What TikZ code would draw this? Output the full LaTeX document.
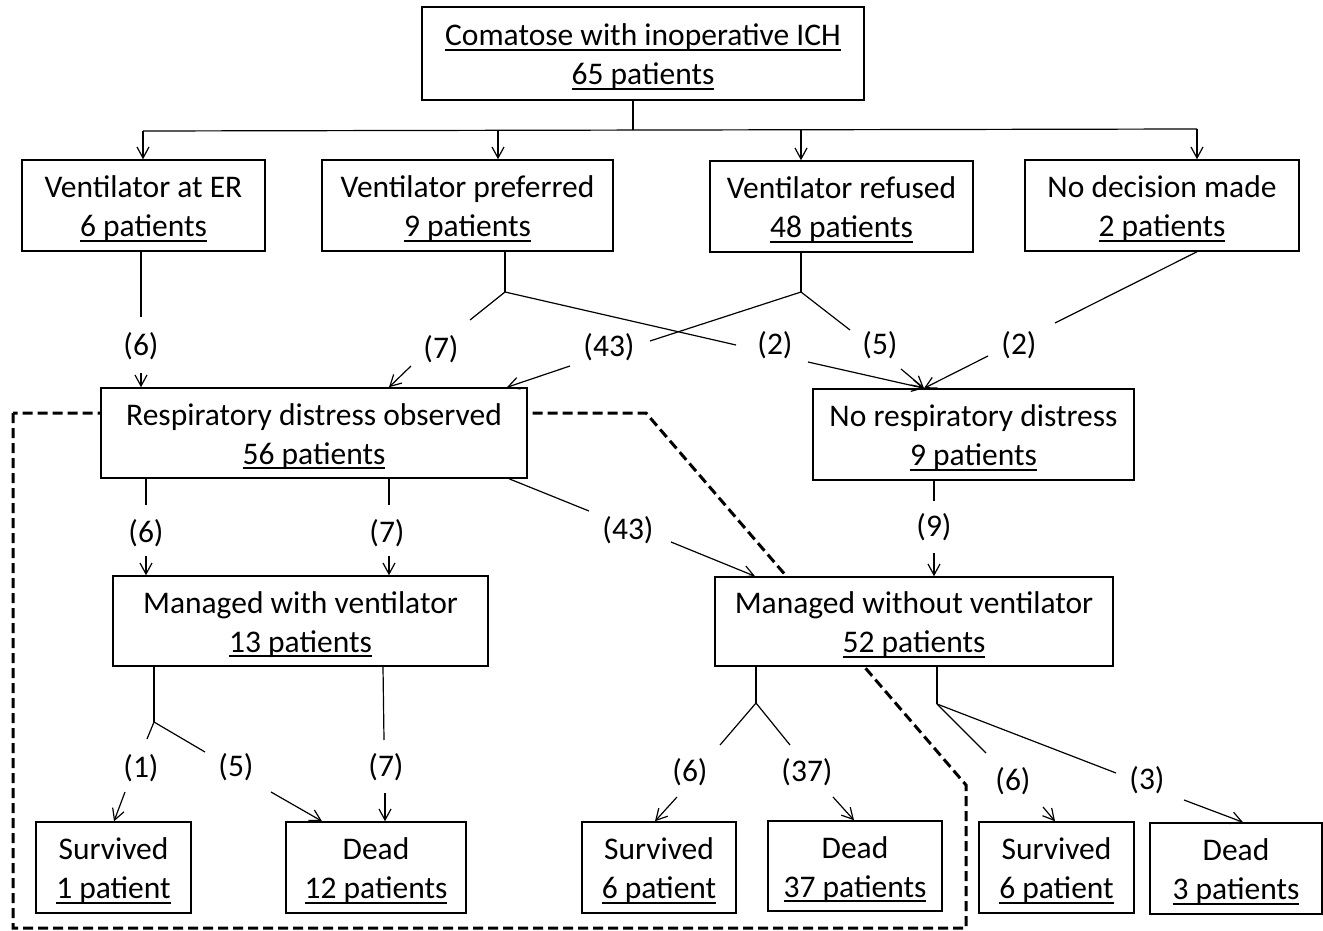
\documentclass[tikz,border=0pt]{standalone}
\usepackage{fontspec}
\setmainfont{Carlito}
\usetikzlibrary{arrows.meta,calc}
\newcommand\ulx[1]{\setbox0\hbox{#1}\rlap{\rule[-0.16em]{\wd0}{0.065em}}\box0}
\newcommand\strutx{\rule{0pt}{0.9em}}
\begin{document}
\begin{tikzpicture}[x=1pt,y=-1pt,
  font=\fontsize{31.5}{39}\selectfont,
  box/.style={draw=black, line width=1.5pt, fill=white, align=center, inner sep=0pt, text=black},
  lab/.style={inner sep=0pt, text=black},
  conn/.style={line width=1.2pt, draw=black},
  arr/.style={conn, -{Straight Barb[length=11pt,width=12pt,line width=1.2pt]}},
  dashbox/.style={line width=3pt, dash pattern=on 10pt off 5pt}]
\useasboundingbox (0,0) rectangle (1323,931);
\fill[white] (0,0) rectangle (1323,931);

% dashed region
\draw[dashbox] (13,413) -- (13,928) -- (966,928) -- (966,785) -- (646,413) -- cycle;

% boxes
\node[box, minimum width=442pt, minimum height=93pt] (top) at (643,53.5) {\strutx\ulx{Comatose with inoperative ICH}\\\ulx{65 patients}};
\node[box, minimum width=243pt, minimum height=91pt] (b1) at (143.5,205.5) {\strutx Ventilator at ER\\\ulx{6 patients}};
\node[box, minimum width=291pt, minimum height=91pt] (b2) at (467.5,205.5) {\strutx Ventilator preferred\\\ulx{9 patients}};
\node[box, minimum width=263pt, minimum height=91pt] (b3) at (841.5,206.5) {\strutx Ventilator refused\\\ulx{48 patients}};
\node[box, minimum width=274pt, minimum height=91pt] (b4) at (1162,205.5) {\strutx No decision made\\\ulx{2 patients}};
\node[box, minimum width=426pt, minimum height=90pt] (R) at (314,433) {\strutx Respiratory distress observed\\\ulx{56 patients}};
\node[box, minimum width=321pt, minimum height=91pt] (N) at (973.5,434.5) {\strutx No respiratory distress\\\ulx{9 patients}};
\node[box, minimum width=375pt, minimum height=90pt] (MW) at (300.5,621) {\strutx Managed with ventilator\\\ulx{13 patients}};
\node[box, minimum width=398pt, minimum height=89pt] (MO) at (914,621.5) {\strutx Managed without ventilator\\\ulx{52 patients}};
\node[box, minimum width=155pt, minimum height=91pt] (S1) at (113.5,867.5) {\strutx Survived\\\ulx{1 patient}};
\node[box, minimum width=180pt, minimum height=91pt] (D12) at (376,867.5) {\strutx Dead\\\ulx{12 patients}};
\node[box, minimum width=154pt, minimum height=91pt] (S6a) at (659,867.5) {\strutx Survived\\\ulx{6 patient}};
\node[box, minimum width=174pt, minimum height=90pt] (D37) at (855,866) {\strutx Dead\\\ulx{37 patients}};
\node[box, minimum width=155pt, minimum height=91pt] (S6b) at (1056.5,867.5) {\strutx Survived\\\ulx{6 patient}};
\node[box, minimum width=172pt, minimum height=91pt] (D3) at (1236,868.5) {\strutx Dead\\\ulx{3 patients}};

% top fan-out
\coordinate (t0) at (633,130);
\coordinate (a1) at (143,131);
\coordinate (a2) at (498,130.5);
\coordinate (a3) at (801,130);
\coordinate (a4) at (1197,129);
\draw[conn] (top.south -| t0) -- (t0);
\draw[conn] (a1) -- (a4);
\draw[arr] (a1) -- (a1 |- b1.north);
\draw[arr] (a2) -- (a2 |- b2.north);
\draw[arr] (a3) -- (a3 |- b3.north);
\draw[arr] (a4) -- (a4 |- b4.north);

% row 2 -> R / N
\draw[conn] (b1.south -| 141,0) -- (141,317) coordinate (e1a);
\node[lab] (l1) at (141,346) {(6)};
\draw[arr] (141,373) coordinate (e1b) -- (R.north -| e1b);

\draw[conn] (b2.south -| 505,0) -- (505,292) coordinate (j2);
\draw[conn] (j2) -- (470,320) coordinate (e2a);
\node[lab] (l2) at (441,349) {(7)};
\draw[arr] (411,366) coordinate (e2b) -- (R.north -| 389,0);
\draw[conn] (j2) -- (736,345) coordinate (e3a);
\node[lab] (l3) at (775,345) {(2)};
\draw[arr] (808,362) coordinate (e3b) -- (N.north -| 924,0);

\draw[conn] (b3.south -| 801,0) -- (801,292) coordinate (j3);
\draw[conn] (j3) -- (650,341) coordinate (e4a);
\node[lab] (l4) at (609,347) {(43)};
\draw[arr] (570,366) coordinate (e4b) -- (R.north -| 507,0);
\draw[conn] (j3) -- (850,330) coordinate (e5a);
\node[lab] (l5) at (880,345) {(5)};
\draw[arr] (901,369) coordinate (e5b) -- (N.north -| 924,0);

\draw[conn] (b4.south -| 1197,0) -- (1055,323) coordinate (e6a);
\node[lab] (l6) at (1019,345) {(2)};
\draw[arr] (988,356) coordinate (e6b) -- (N.north -| 924,0);

% R, N -> MW, MO
\draw[conn] (R.south -| 146,0) -- (146,505) coordinate (f1a);
\node[lab] (m1) at (146,533) {(6)};
\draw[arr] (146,556) coordinate (f1b) -- (MW.north -| f1b);
\draw[conn] (R.south -| 389,0) -- (389,505) coordinate (f2a);
\node[lab] (m2) at (387,533) {(7)};
\draw[arr] (389,556) coordinate (f2b) -- (MW.north -| f2b);
\draw[conn] (R.south -| 509,0) -- (589,511) coordinate (f3a);
\node[lab] (m3) at (628,530) {(43)};
\draw[arr] (671,542) coordinate (f3b) -- (MO.north -| 755,0);
\draw[conn] (N.south -| 934,0) -- (934,501) coordinate (f4a);
\node[lab] (m4) at (934,527) {(9)};
\draw[arr] (934,553) coordinate (f4b) -- (MO.north -| f4b);

% MW -> outcomes
\draw[conn] (MW.south -| 154,0) -- (154,722) coordinate (j5);
\draw[conn] (j5) -- (147,739) coordinate (g1a);
\node[lab] (n1) at (141,768) {(1)};
\draw[arr] (125,792) coordinate (g1b) -- (S1.north -| 114,0);
\draw[conn] (j5) -- (205,752) coordinate (g2a);
\node[lab] (n2) at (236,767) {(5)};
\draw[arr] (271,792) coordinate (g2b) -- (D12.north -| 322,0);
\draw[conn] (MW.south -| 383,0) -- (384,740) coordinate (g3a);
\node[lab] (n3) at (386,767) {(7)};
\draw[arr] (385,793) coordinate (g3b) -- (D12.north -| g3b);

% MO -> outcomes
\draw[conn] (MO.south -| 756,0) -- (756,703) coordinate (j6);
\draw[conn] (j6) -- (720,745) coordinate (h1a);
\node[lab] (o1) at (690,772) {(6)};
\draw[arr] (677,797) coordinate (h1b) -- (S6a.north -| 655,0);
\draw[conn] (j6) -- (790,745) coordinate (h2a);
\node[lab] (o2) at (807,772) {(37)};
\draw[arr] (833,797) coordinate (h2b) -- (D37.north -| 854,0);
\draw[conn] (MO.south -| 937,0) -- (937,704) coordinate (j7);
\draw[conn] (j7) -- (986,753) coordinate (h3a);
\node[lab] (o3) at (1013,781) {(6)};
\draw[arr] (1043,807) coordinate (h3b) -- (S6b.north -| 1055,0);
\draw[conn] (j7) -- (1116,773) coordinate (h4a);
\node[lab] (o4) at (1147,780) {(3)};
\draw[arr] (1184,800) coordinate (h4b) -- (D3.north -| 1243,0);
\end{tikzpicture}
\end{document}
